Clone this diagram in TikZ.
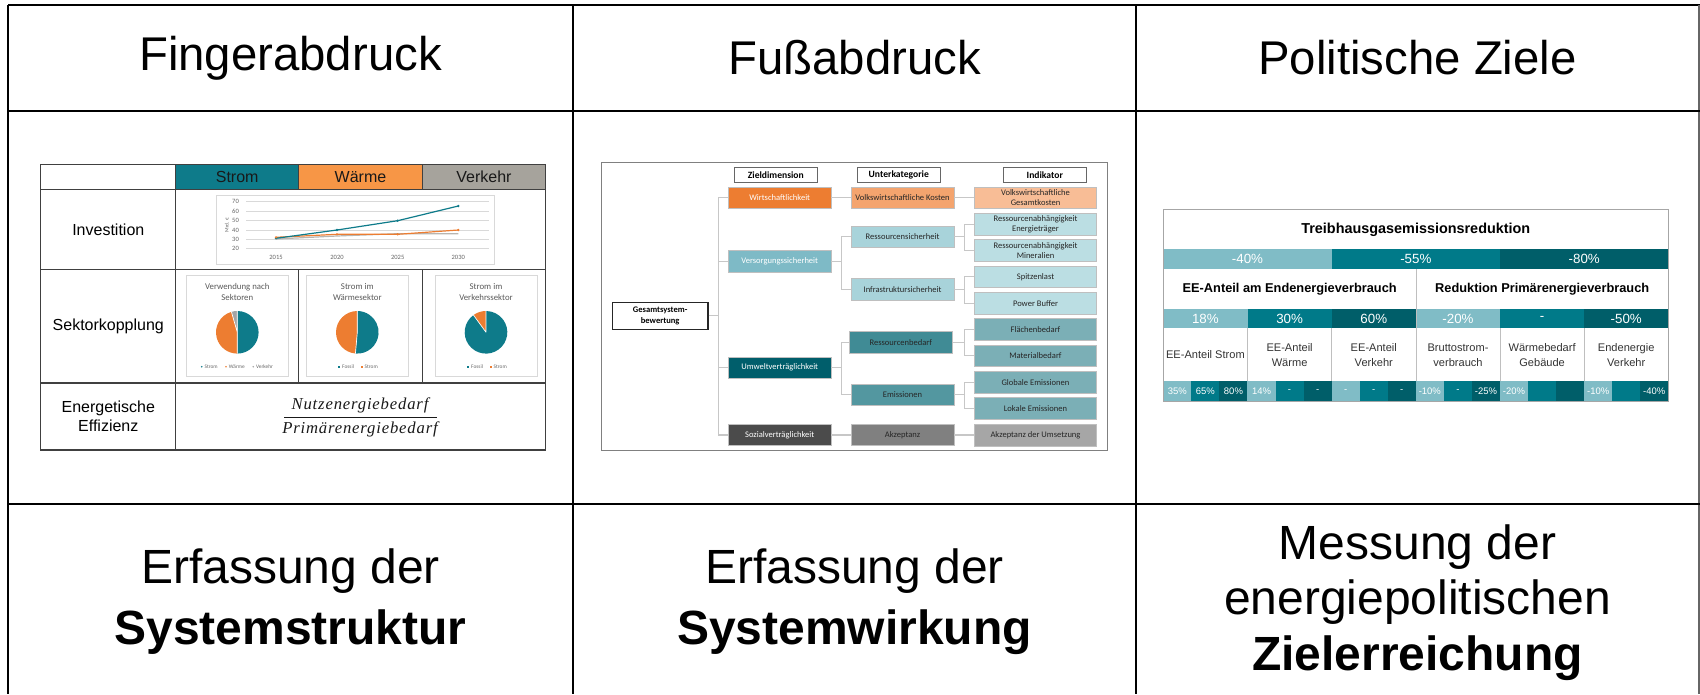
\documentclass[tikz,border=0pt]{standalone}
\usepackage{fontspec}
\setmainfont{Liberation Sans}
\newfontfamily\calibri{Carlito}
\newfontfamily\formelschrift{Liberation Serif}[LetterSpace=5]

% Farben Fingerabdruck
\definecolor{tealS}{HTML}{0E7B8A}
\definecolor{orgS}{HTML}{F79646}
\definecolor{grayS}{HTML}{A6A39C}
\definecolor{pieOrg}{HTML}{ED7D31}
\definecolor{pieGray}{HTML}{A5A5A5}
% Farben Fussabdruck
\definecolor{wirt1}{HTML}{ED7D31}
\definecolor{wirt2}{HTML}{F4A46E}
\definecolor{wirt3}{HTML}{F8BD96}
\definecolor{vers1}{HTML}{7EBAC6}
\definecolor{vers2}{HTML}{A8D3DA}
\definecolor{vers3}{HTML}{BBDEE3}
\definecolor{umw1}{HTML}{005E6B}
\definecolor{umw2}{HTML}{408B95}
\definecolor{umw3}{HTML}{7BAFB6}
\definecolor{soz1}{HTML}{4B4B4B}
\definecolor{soz2}{HTML}{808080}
\definecolor{soz3}{HTML}{A6A6A6}
% Farben Politische Ziele
\definecolor{zielL}{HTML}{80BCC6}
\definecolor{zielM}{HTML}{007A89}
\definecolor{zielD}{HTML}{005E69}
\colorlet{stufe0}{zielL}
\colorlet{stufe1}{zielM}
\colorlet{stufe2}{zielD}

\tikzset{every picture/.style={line width=0.75pt}}

\begin{document}
\begin{tikzpicture}[x=0.75pt,y=0.75pt,yscale=-1,xscale=1,
  rahmen/.style={line width=1.5pt,draw=black},
  titel/.style={inner sep=0.75pt,font=\fontsize{35.5}{42}\selectfont},
  fuss/.style={inner sep=0.75pt,align=center,font=\fontsize{36}{45.75}\selectfont},
  fussdrei/.style={inner sep=0.75pt,align=center,font=\fontsize{36}{41.6}\selectfont},
  tab/.style={line width=0.9pt,draw=black!75},
  zeile/.style={inner sep=0.75pt,align=center,font=\fontsize{12}{14}\selectfont},
  chartbox/.style={draw=black!15,line width=0.6pt},
  gridl/.style={draw=black!15,line width=0.4pt},
  tick/.style={inner sep=0.5pt,text=black!60,font=\calibri\fontsize{4.9}{5.5}\selectfont},
  pietitel/.style={inner sep=0.5pt,align=center,text=black!65,font=\calibri\fontsize{6.6}{8}\selectfont},
  leg/.style={inner sep=0.3pt,anchor=west,text=black!60,font=\calibri\fontsize{4}{5}\selectfont},
  formel/.style={inner sep=0.5pt,text=black!90,font=\formelschrift\itshape\fontsize{12.5}{14}\selectfont},
  box/.style={draw=black!25,line width=0.5pt,inner sep=0pt,align=center,minimum height=16.1pt,font=\calibri\fontsize{6.4}{7.7}\selectfont},
  ziel/.style={box,minimum width=77pt,text=white},
  unter/.style={box,minimum width=77.3pt,text=black!85},
  ind/.style={box,minimum width=91.8pt,minimum height=16.3pt,text=black!85},
  kopf/.style={box,draw=black!60,fill=white,minimum width=62.3pt,minimum height=11.5pt,font=\calibri\bfseries\fontsize{7.2}{8.6}\selectfont},
  ast/.style={draw=black!22,line width=1pt},
  ptitel/.style={inner sep=0.5pt,font=\bfseries\fontsize{10.8}{13}\selectfont},
  pkopf/.style={inner sep=0.5pt,font=\bfseries\fontsize{9.6}{11.5}\selectfont},
  pwert/.style={inner sep=0.5pt,text=white,font=\fontsize{10}{12}\selectfont},
  plabel/.style={inner sep=0.5pt,align=center,text=black!80,font=\fontsize{8.3}{11.25}\selectfont},
  pklein/.style={inner sep=0.3pt,text=white,font=\fontsize{7.1}{8.5}\selectfont},
  trenn/.style={draw=black!25,line width=0.6pt}]
\useasboundingbox (0,0) rectangle (1700,694);

%%%%%%%%%%%%%%%%%%%%%%%%%%%%%%%%%%%%%%%% Fingerabdruck

%Shape: Rectangle
\fill[tealS] (175.7,164.3) rectangle (298.7,189.3);
\fill[orgS] (298.7,164.3) rectangle (422.3,189.3);
\fill[grayS] (422.3,164.3) rectangle (545.7,189.3);
%Straight Lines
\draw[tab] (40.7,164.3) rectangle (545.7,450);
\draw[tab] (40.7,189.3) -- (545.7,189.3);
\draw[tab] (40.7,269.3) -- (545.7,269.3);
\draw[tab] (40.7,383) -- (545.7,383);
\draw[tab] (175.7,164.3) -- (175.7,450);
\draw[tab] (298.7,164.3) -- (298.7,189.3);
\draw[tab] (422.3,164.3) -- (422.3,189.3);
\draw[tab] (298.7,269.3) -- (298.7,383);
\draw[tab] (422.3,269.3) -- (422.3,383);

% Text Node
\draw (237.2,177) node (fStrom) [zeile,text=black!90] {Strom};
% Text Node
\draw (360.5,177) node (fWaerme) [zeile,text=black!90] {Wärme};
% Text Node
\draw (484,177) node (fVerkehr) [zeile,text=black!90] {Verkehr};
% Text Node
\draw (108.3,229.3) node (fInv) [zeile] {Investition};
% Text Node
\draw (108.3,326.2) node (fSek) [zeile] {Sektorkopplung};
% Text Node
\draw (108.3,416.5) node (fEff) [zeile] {Energetische\\Effizienz};

% Investitionen
\draw[chartbox] (216.7,195.7) rectangle (494.3,264.3);
\foreach \v [count=\k] in {20,30,...,70} {
  \draw[gridl] (246,{248.7-(\v-20)*0.94}) -- (489,{248.7-(\v-20)*0.94});
  \draw (240,{248.7-(\v-20)*0.94}) node (yt\k) [tick,anchor=east] {\v};
}
\foreach \yr/\xx in {2015/276,2020/337,2025/397.7,2030/458.3}
  \draw (\xx,257.7) node (yr\yr) [tick] {\yr};
\draw (226.7,225) node (yachse) [tick,rotate=90,font=\calibri\fontsize{4}{5}\selectfont] {Mrd. €};
\draw[grayS!80,line width=0.9pt] (276,239) -- (337,236) -- (397.7,233.7) -- (458.3,233.7);
\draw[pieOrg,line width=0.9pt] (276,237.3) -- (337,234.3) -- (397.7,234.3) -- (458.3,230);
\draw[tealS,line width=0.9pt] (276,238.3) -- (337,230) -- (397.7,220.7) -- (458.3,206);
\foreach \p in {(276,238.3),(337,230),(397.7,220.7),(458.3,206)} \fill[tealS] \p circle (1.3);
\foreach \p in {(276,237.3),(337,234.3),(397.7,234.3),(458.3,230)} \fill[pieOrg] \p circle (1.3);

% Sektorkopplung
\draw[chartbox] (186,275) rectangle (288.7,376.3);
\draw[chartbox] (306,275) rectangle (408.3,376.3);
\draw[chartbox] (435,275) rectangle (537.3,376.3);
% Text Node
\draw (237.3,292) node (pt1) [pietitel] {Verwendung nach\\Sektoren};
% Text Node
\draw (357.3,292) node (pt2) [pietitel] {Strom im\\Wärmesektor};
% Text Node
\draw (486,292) node (pt3) [pietitel] {Strom im\\Verkehrssektor};

\begin{scope}[shift={(237.3,332.3)},yscale=-1]
\fill[tealS] (0,0) -- (-90:21.3) arc[start angle=-90,end angle=90,radius=21.3] -- cycle;
\fill[pieGray] (0,0) -- (90:21.3) arc[start angle=90,end angle=106,radius=21.3] -- cycle;
\fill[pieOrg] (0,0) -- (106:21.3) arc[start angle=106,end angle=270,radius=21.3] -- cycle;
\draw[white,line width=0.5pt] (0,0) -- (90:21.3) (0,0) -- (106:21.3) (0,0) -- (270:21.3);
\end{scope}
\begin{scope}[shift={(357.3,332.3)},yscale=-1]
\fill[tealS] (0,0) -- (-95:21.3) arc[start angle=-95,end angle=90,radius=21.3] -- cycle;
\fill[pieOrg] (0,0) -- (90:21.3) arc[start angle=90,end angle=265,radius=21.3] -- cycle;
\draw[white,line width=0.5pt] (0,0) -- (90:21.3) (0,0) -- (265:21.3);
\end{scope}
\begin{scope}[shift={(486,332.3)},yscale=-1]
\fill[pieOrg] (0,0) -- (90:21.3) arc[start angle=90,end angle=126,radius=21.3] -- cycle;
\fill[tealS] (0,0) -- (126:21.3) arc[start angle=126,end angle=450,radius=21.3] -- cycle;
\draw[white,line width=0.5pt] (0,0) -- (90:21.3) (0,0) -- (126:21.3);
\end{scope}

% Legenden
\fill[tealS] (201.7,366.7) circle (0.9);
\draw (203.7,366.7) node (l1a) [leg] {Strom};
\fill[pieOrg] (226,366.7) circle (0.9);
\draw (228,366.7) node (l1b) [leg] {Wärme};
\fill[pieGray] (253.3,366.7) circle (0.9);
\draw (255.3,366.7) node (l1c) [leg] {Verkehr};
\fill[tealS] (338,365.5) rectangle ++(2.4,2.4);
\draw (341.3,366.7) node (l2a) [leg] {Fossil};
\fill[pieOrg] (360.5,365.5) rectangle ++(2.4,2.4);
\draw (363.8,366.7) node (l2b) [leg] {Strom};
\fill[tealS] (467,365.5) rectangle ++(2.4,2.4);
\draw (470.3,366.7) node (l3a) [leg] {Fossil};
\fill[pieOrg] (489.5,365.5) rectangle ++(2.4,2.4);
\draw (492.8,366.7) node (l3b) [leg] {Strom};

% Bruch
\draw (360,405) node (zaehler) [formel] {Nutzenergiebedarf};
\draw (360,429) node (nenner) [formel] {Primärenergiebedarf};
\draw[black!90,line width=0.6pt] (284,417.3) -- (437,417.3);

%%%%%%%%%%%%%%%%%%%%%%%%%%%%%%%%%%%%%%%% Fussabdruck

\draw[draw=black!50,line width=1pt] (601.7,162.3) rectangle (1107.3,450.3);

% Kopfzeile
\draw (775.8,174.7) node (kZiel) [kopf] {Zieldimension};
\draw (898.8,174.7) node (kUnter) [kopf] {Unterkategorie};
\draw (1044.8,174.7) node (kInd) [kopf] {Indikator};

\draw (660.2,315.8) node (gsb) [box,minimum width=71.8pt,minimum height=20.3pt,draw=black!85,line width=0.9pt,fill=white,font=\calibri\bfseries\fontsize{6.4}{7.8}\selectfont] {Gesamtsystem-\\bewertung};

% Zieldimensionen
\draw (779.7,197.8) node (z1) [ziel,fill=wirt1] {Wirtschaftlichkeit};
\draw (779.7,261.2) node (z2) [ziel,fill=vers1] {Versorgungssicherheit};
\draw (779.7,367.7) node (z3) [ziel,fill=umw1] {Umweltverträglichkeit};
\draw (779.7,435) node (z4) [ziel,fill=soz1] {Sozialverträglichkeit};

% Unterkategorien
\draw (902.5,197.8) node (u1) [unter,fill=wirt2] {Volkswirtschaftliche Kosten};
\draw (902.5,236.7) node (u2) [unter,fill=vers2] {Ressourcensicherheit};
\draw (902.5,289.3) node (u3) [unter,fill=vers2] {Infrastruktursicherheit};
\draw (900.8,342.3) node (u4) [unter,fill=umw2] {Ressourcenbedarf};
\draw (902.5,394.7) node (u5) [unter,fill=umw2!90!white] {Emissionen};
\draw (902.5,435) node (u6) [unter,fill=soz2] {Akzeptanz};

% Indikatoren
\draw (1035.5,197.8) node (i1) [ind,fill=wirt3] {Volkswirtschaftliche\\Gesamtkosten};
\draw (1035.5,224.2) node (i2) [ind,fill=vers3] {Ressourcenabhängigkeit\\Energieträger};
\draw (1035.5,250.5) node (i3) [ind,fill=vers3] {Ressourcenabhängigkeit\\Mineralien};
\draw (1035.5,276.8) node (i4) [ind,fill=vers3] {Spitzenlast};
\draw (1035.5,303.2) node (i5) [ind,fill=vers3] {Power Buffer};
\draw (1035.5,329.5) node (i6) [ind,fill=umw3] {Flächenbedarf};
\draw (1035.5,355.8) node (i7) [ind,fill=umw3] {Materialbedarf};
\draw (1035.5,382.2) node (i8) [ind,fill=umw3] {Globale Emissionen};
\draw (1035.5,408.5) node (i9) [ind,fill=umw3] {Lokale Emissionen};
\draw (1035.5,435) node (i10) [ind,fill=soz3] {Akzeptanz der Umsetzung};

% Baum
\coordinate (stamm) at (718.3,315.8);
\draw[ast] (gsb.east) -- (stamm);
\foreach \n in {z1,z2,z3,z4} \draw[ast] (\n.west) -| (stamm);
\draw[ast] (z1.east) -- (u1.west);
\draw[ast] (u1.east) -- (i1.west);
\draw[ast] (z4.east) -- (u6.west);
\draw[ast] (u6.east) -- (i10.west);
\coordinate (kv) at (841.7,261.2);
\draw[ast] (z2.east) -- (kv);
\draw[ast] (u2.west) -| (kv);
\draw[ast] (u3.west) -| (kv);
\coordinate (ku) at (841.7,367.7);
\draw[ast] (z3.east) -- (ku);
\draw[ast] (u4.west) -| (ku);
\draw[ast] (u5.west) -| (ku);
\coordinate (k2) at (964.3,236.7);
\draw[ast] (u2.east) -- (k2);
\draw[ast] (i2.west) -| (k2);
\draw[ast] (i3.west) -| (k2);
\coordinate (k3) at (964.3,289.3);
\draw[ast] (u3.east) -- (k3);
\draw[ast] (i4.west) -| (k3);
\draw[ast] (i5.west) -| (k3);
\coordinate (k4) at (964.3,342.3);
\draw[ast] (u4.east) -- (k4);
\draw[ast] (i6.west) -| (k4);
\draw[ast] (i7.west) -| (k4);
\coordinate (k5) at (964.3,394.7);
\draw[ast] (u5.east) -- (k5);
\draw[ast] (i8.west) -| (k5);
\draw[ast] (i9.west) -| (k5);

%%%%%%%%%%%%%%%%%%%%%%%%%%%%%%%%%%%%%%%% Politische Ziele

% Text Node
\draw (1415.8,230) node (thg) [ptitel] {Treibhausgasemissionsreduktion};
\fill[zielL] (1163.3,249.3) rectangle (1331.7,269.3);
\fill[zielM] (1331.7,249.3) rectangle (1500,269.3);
\fill[zielD] (1500,249.3) rectangle (1668.3,269.3);
\draw (1247.5,259.3) node (thg1) [pwert] {-40\%};
\draw (1415.8,259.3) node (thg2) [pwert] {-55\%};
\draw (1584.2,259.3) node (thg3) [pwert] {-80\%};

% Text Node
\draw (1289.7,289.3) node (ee) [pkopf] {EE-Anteil am Endenergieverbrauch};
% Text Node
\draw (1542.2,289.3) node (pev) [pkopf] {Reduktion Primärenergieverbrauch};

\fill[zielL] (1163.3,309.3) rectangle (1247.5,328.3);
\fill[zielM] (1247.5,309.3) rectangle (1331.7,328.3);
\fill[zielD] (1331.7,309.3) rectangle (1416,328.3);
\fill[zielL] (1416,309.3) rectangle (1500,328.3);
\fill[zielM] (1500,309.3) rectangle (1584.2,328.3);
\fill[zielD] (1584.2,309.3) rectangle (1668.3,328.3);
\draw (1205.4,318.8) node (w1) [pwert] {18\%};
\draw (1289.6,318.8) node (w2) [pwert] {30\%};
\draw (1373.8,318.8) node (w3) [pwert] {60\%};
\draw (1458,318.8) node (w4) [pwert] {-20\%};
\draw (1542.1,318.8) node (w5) [pwert] {-};
\draw (1626.2,318.8) node (w6) [pwert] {-50\%};

% Text Node
\draw (1205.4,355) node (a1) [plabel] {EE-Anteil Strom};
\draw (1289.6,355.5) node (a2) [plabel] {EE-Anteil\\Wärme};
\draw (1373.8,355.5) node (a3) [plabel] {EE-Anteil\\Verkehr};
\draw (1458,355.5) node (a4) [plabel] {Bruttostrom-\\verbrauch};
\draw (1542.1,355.5) node (a5) [plabel] {Wärmebedarf\\Gebäude};
\draw (1626.2,355.5) node (a6) [plabel] {Endenergie\\Verkehr};

\foreach \t [count=\i from 0] in {35\%,65\%,80\%,14\%,-,-,-,-,-,-10\%,-,-25\%,-20\%,{},{},-10\%,{},-40\%} {
  \pgfmathtruncatemacro\m{mod(\i,3)}
  \pgfmathsetmacro\xa{1163.3+\i*28.056}
  \fill[stufe\m] (\xa,381) rectangle ++(28.056,20);
  \draw (\xa+14.03,391) node (s\i) [pklein] {\t};
}

%Straight Lines
\draw[trenn] (1416,269.3) -- (1416,381);
\foreach \xx in {1247.5,1331.7,1500,1584.2} \draw[trenn] (\xx,328.3) -- (\xx,381);
\draw[draw=black!35,line width=0.7pt] (1163.3,209.3) rectangle (1668.3,401);

%%%%%%%%%%%%%%%%%%%%%%%%%%%%%%%%%%%%%%%% Raster

\draw[rahmen] (8,5) -- (1700,5);
\draw[rahmen] (8,5) -- (8,694);
\draw[rahmen,draw=black!60] (1699,5) -- (1699,694);
\draw[rahmen] (8,111) -- (1700,111);
\draw[rahmen] (8,504) -- (1700,504);
\draw[rahmen] (573,5) -- (573,694);
\draw[rahmen] (1136,5) -- (1136,694);

% Text Node
\draw (290.5,58) node (hFinger) [titel] {Fingerabdruck};
% Text Node
\draw (854.5,58) node (hFuss) [titel] {Fußabdruck};
% Text Node
\draw (1417.5,58) node (hPolitik) [titel] {Politische Ziele};

% Text Node
\draw (290.5,601.5) node (bStruktur) [fuss] {Erfassung der\\\textbf{Systemstruktur}};
% Text Node
\draw (854.5,601.5) node (bWirkung) [fuss] {Erfassung der\\\textbf{Systemwirkung}};
% Text Node
\draw (1417.5,602.5) node (bZiel) [fussdrei] {Messung der\\energiepolitischen\\\textbf{Zielerreichung}};

\end{tikzpicture}
\end{document}
